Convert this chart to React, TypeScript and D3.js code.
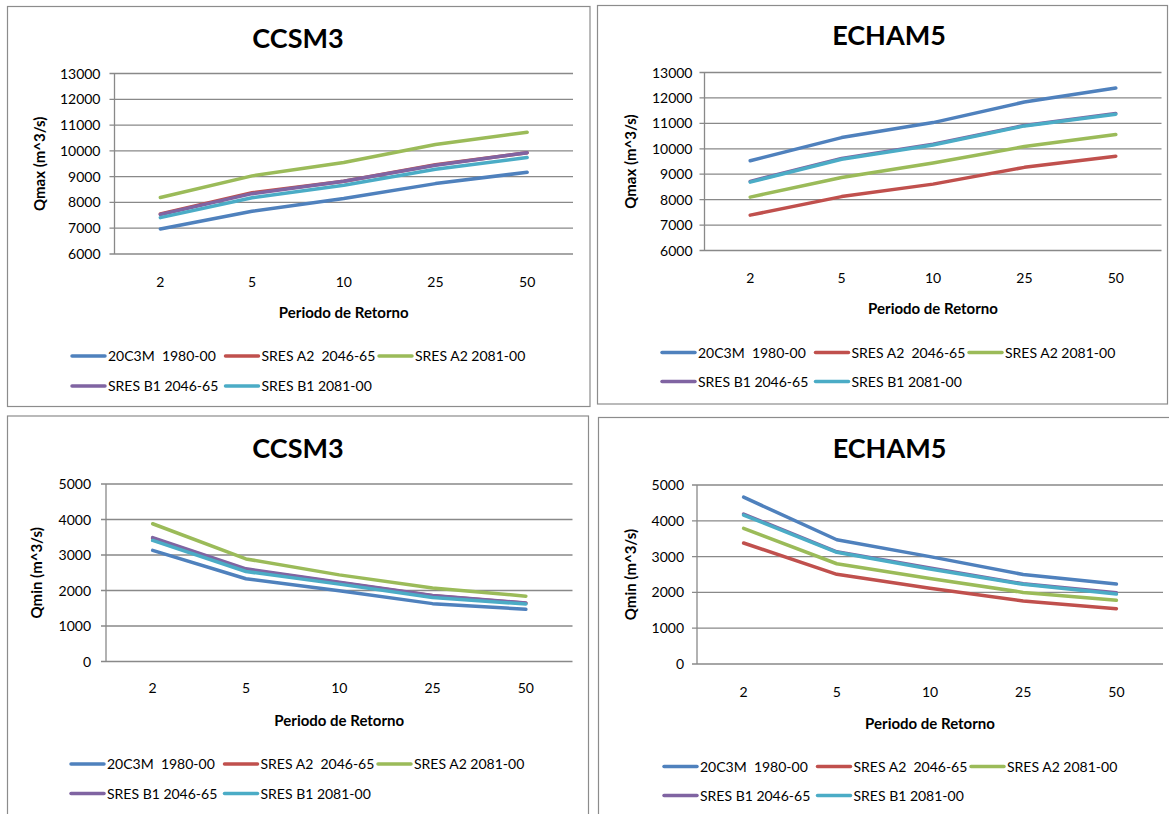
import React from "react";
import * as d3 from "d3";

// Return periods (years) on the category axis
const periods = ["2", "5", "10", "25", "50"];

// Scenario names and their line colours
const seriesLabels = [
  "20C3M  1980-00",
  "SRES A2  2046-65",
  "SRES A2 2081-00",
  "SRES B1 2046-65",
  "SRES B1 2081-00",
];
const seriesColors = ["#4F81BD", "#C0504D", "#9BBB59", "#8064A2", "#4BACC6"];

// CCSM3 – maximum discharge (m^3/s)
const ccsm3Qmax20C3M = [6970, 7660, 8150, 8730, 9170];
const ccsm3QmaxA2Mid = [7550, 8380, 8820, 9460, 9930];
const ccsm3QmaxA2End = [8190, 9030, 9550, 10250, 10720];
const ccsm3QmaxB1Mid = [7530, 8340, 8820, 9440, 9930];
const ccsm3QmaxB1End = [7410, 8180, 8670, 9290, 9740];

// ECHAM5 – maximum discharge (m^3/s)
const echam5Qmax20C3M = [9530, 10440, 11030, 11840, 12390];
const echam5QmaxA2Mid = [7390, 8120, 8610, 9270, 9710];
const echam5QmaxA2End = [8100, 8870, 9440, 10090, 10560];
const echam5QmaxB1Mid = [8720, 9620, 10180, 10920, 11390];
const echam5QmaxB1End = [8690, 9590, 10150, 10900, 11360];

// CCSM3 – minimum discharge (m^3/s)
const ccsm3Qmin20C3M = [3130, 2330, 1990, 1630, 1470];
const ccsm3QminA2Mid = [3470, 2590, 2220, 1850, 1640];
const ccsm3QminA2End = [3880, 2890, 2440, 2070, 1840];
const ccsm3QminB1Mid = [3490, 2610, 2230, 1860, 1650];
const ccsm3QminB1End = [3410, 2535, 2180, 1800, 1620];

// ECHAM5 – minimum discharge (m^3/s)
const echam5Qmin20C3M = [4660, 3470, 3000, 2500, 2235];
const echam5QminA2Mid = [3380, 2505, 2115, 1760, 1545];
const echam5QminA2End = [3790, 2800, 2390, 2000, 1780];
const echam5QminB1Mid = [4190, 3135, 2680, 2240, 1990];
const echam5QminB1End = [4160, 3120, 2655, 2225, 1955];

// Value-axis ticks
const qmaxTicks = [6000, 7000, 8000, 9000, 10000, 11000, 12000, 13000];
const qminTicks = [0, 1000, 2000, 3000, 4000, 5000];

const FONT = "Lato, 'Open Sans', sans-serif";
const GRID = "#898989";

type Box = { x: number; y: number; w: number; h: number };
type Plot = { left: number; right: number; top: number; bottom: number };
type PanelCfg = {
  title: string;
  yTitle: string;
  border: Box;
  plot: Plot;
  ticks: number[];
  series: number[][];
  titleX: number;
  titleY: number;
  yTitleX: number;
  tickGap: number;
  catY: number;
  xTitleY: number;
  legendX: number;
  legendY: [number, number];
};

const panels: PanelCfg[] = [
  {
    title: "CCSM3",
    yTitle: "Qmax (m^3/s)",
    border: { x: 7.5, y: 6.5, w: 582.5, h: 400 },
    plot: { left: 114.5, right: 573, top: 73.5, bottom: 254 },
    ticks: qmaxTicks,
    series: [ccsm3Qmax20C3M, ccsm3QmaxA2Mid, ccsm3QmaxA2End, ccsm3QmaxB1Mid, ccsm3QmaxB1End],
    titleX: 298,
    titleY: 47.5,
    yTitleX: 40,
    tickGap: 14,
    catY: 281.5,
    xTitleY: 312.5,
    legendX: 72,
    legendY: [356, 386],
  },
  {
    title: "ECHAM5",
    yTitle: "Qmax (m^3/s)",
    border: { x: 597.5, y: 5.5, w: 570, h: 398.5 },
    plot: { left: 704.5, right: 1161.5, top: 72.5, bottom: 250.5 },
    ticks: qmaxTicks,
    series: [echam5Qmax20C3M, echam5QmaxA2Mid, echam5QmaxA2End, echam5QmaxB1Mid, echam5QmaxB1End],
    titleX: 889,
    titleY: 45,
    yTitleX: 631,
    tickGap: 12,
    catY: 277.5,
    xTitleY: 309,
    legendX: 662,
    legendY: [352.5, 381.5],
  },
  {
    title: "CCSM3",
    yTitle: "Qmin (m^3/s)",
    border: { x: 7.5, y: 416, w: 581, h: 410 },
    plot: { left: 106, right: 572.5, top: 484, bottom: 661.5 },
    ticks: qminTicks,
    series: [ccsm3Qmin20C3M, ccsm3QminA2Mid, ccsm3QminA2End, ccsm3QminB1Mid, ccsm3QminB1End],
    titleX: 298,
    titleY: 458,
    yTitleX: 37,
    tickGap: 15,
    catY: 688,
    xTitleY: 720.5,
    legendX: 71,
    legendY: [764, 793.5],
  },
  {
    title: "ECHAM5",
    yTitle: "Qmin (m^3/s)",
    border: { x: 598.5, y: 417.5, w: 580, h: 410 },
    plot: { left: 697, right: 1163, top: 485, bottom: 664 },
    ticks: qminTicks,
    series: [echam5Qmin20C3M, echam5QminA2Mid, echam5QminA2End, echam5QminB1Mid, echam5QminB1End],
    titleX: 889.5,
    titleY: 458,
    yTitleX: 631,
    tickGap: 13,
    catY: 692,
    xTitleY: 723.5,
    legendX: 664,
    legendY: [766.5, 795.5],
  },
];

const LEGEND_ENTRY_W = 153.5;
const LEGEND_LINE_W = 33;

function Panel({ cfg }: { cfg: PanelCfg }) {
  const { plot } = cfg;
  const x = d3
    .scalePoint<string>()
    .domain(periods)
    .range([plot.left, plot.right])
    .padding(0.5);
  const y = d3
    .scaleLinear()
    .domain([cfg.ticks[0], cfg.ticks[cfg.ticks.length - 1]])
    .range([plot.bottom, plot.top]);
  const line = d3
    .line<number>()
    .x((_, i) => x(periods[i]) as number)
    .y((d) => y(d));

  const legendPos = seriesLabels.map((_, i) => ({
    row: i < 3 ? 0 : 1,
    col: i < 3 ? i : i - 3,
  }));

  return (
    <g fontFamily={FONT}>
      <rect
        x={cfg.border.x}
        y={cfg.border.y}
        width={cfg.border.w}
        height={cfg.border.h}
        fill="#fff"
        stroke="#8c8c8c"
        strokeWidth={1.2}
      />
      <text
        x={cfg.titleX}
        y={cfg.titleY}
        textAnchor="middle"
        fontSize={27}
        fontWeight="bold"
        fill="#000"
      >
        {cfg.title}
      </text>

      {/* gridlines with outside tick marks */}
      {cfg.ticks.map((t) => (
        <g key={t}>
          <line
            x1={plot.left - 5}
            x2={plot.right}
            y1={y(t)}
            y2={y(t)}
            stroke={GRID}
            strokeWidth={1.3}
          />
          <text
            x={plot.left - cfg.tickGap}
            y={y(t)}
            dy="0.36em"
            textAnchor="end"
            fontSize={14}
            fill="#000"
          >
            {t}
          </text>
        </g>
      ))}
      <line
        x1={plot.left}
        x2={plot.left}
        y1={plot.top}
        y2={plot.bottom}
        stroke={GRID}
        strokeWidth={1.3}
      />

      {periods.map((p) => (
        <text
          key={p}
          x={x(p)}
          y={cfg.catY}
          dy="0.36em"
          textAnchor="middle"
          fontSize={14}
          fill="#000"
        >
          {p}
        </text>
      ))}

      <text
        x={(plot.left + plot.right) / 2}
        y={cfg.xTitleY}
        dy="0.36em"
        textAnchor="middle"
        fontSize={15}
        fontWeight="bold"
        fill="#000"
      >
        Periodo de Retorno
      </text>
      <text
        transform={`translate(${cfg.yTitleX},${(plot.top + plot.bottom) / 2}) rotate(-90)`}
        dy="0.36em"
        textAnchor="middle"
        fontSize={15}
        fontWeight="bold"
        fill="#000"
      >
        {cfg.yTitle}
      </text>

      {cfg.series.map((vals, i) => (
        <path
          key={i}
          d={line(vals) ?? ""}
          fill="none"
          stroke={seriesColors[i]}
          strokeWidth={3.5}
          strokeLinejoin="round"
          strokeLinecap="round"
        />
      ))}

      {seriesLabels.map((label, i) => {
        const { row, col } = legendPos[i];
        const lx = cfg.legendX + col * LEGEND_ENTRY_W;
        const ly = cfg.legendY[row];
        return (
          <g key={label}>
            <line
              x1={lx}
              x2={lx + LEGEND_LINE_W}
              y1={ly}
              y2={ly}
              stroke={seriesColors[i]}
              strokeWidth={3.5}
              strokeLinecap="round"
            />
            <text
              x={lx + LEGEND_LINE_W + 3}
              y={ly}
              dy="0.36em"
              fontSize={14}
              fill="#000"
              style={{ whiteSpace: "pre" }}
            >
              {label}
            </text>
          </g>
        );
      })}
    </g>
  );
}

export default function App() {
  return (
    <svg
      width={1169}
      height={814}
      style={{ position: "absolute", left: 0, top: 0, background: "#fff" }}
    >
      <rect x={0} y={0} width={1169} height={814} fill="#fff" />
      {panels.map((cfg, i) => (
        <Panel key={i} cfg={cfg} />
      ))}
    </svg>
  );
}
